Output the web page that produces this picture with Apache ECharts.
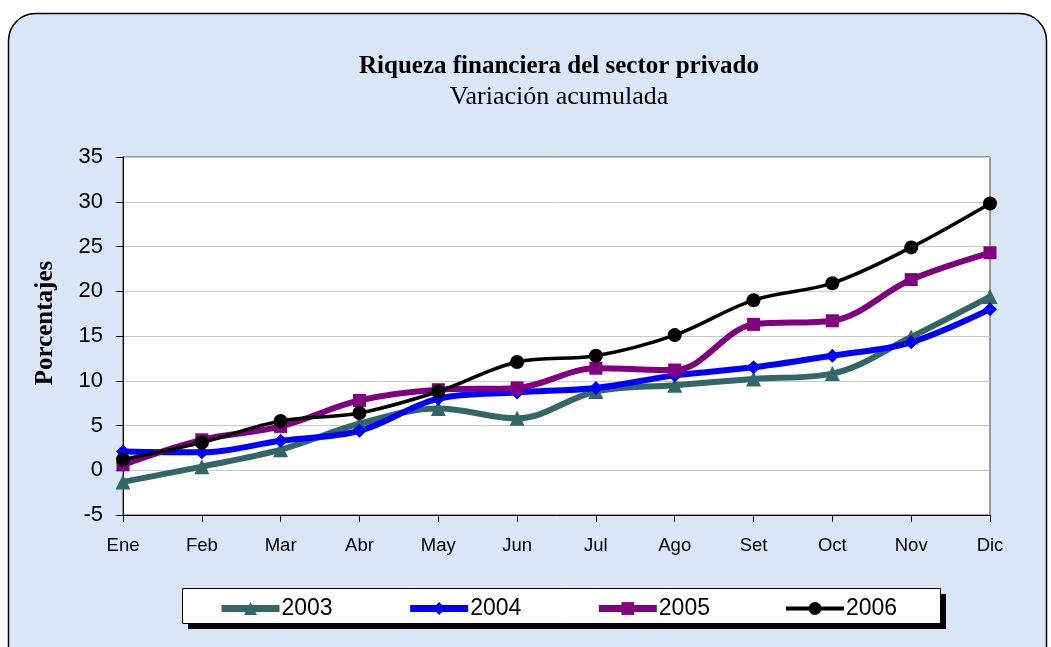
<!DOCTYPE html>
<html>
<head>
<meta charset="utf-8">
<script src="https://cdn.jsdelivr.net/npm/echarts@6/dist/echarts.min.js"></script>
<style>
  html, body { margin: 0; padding: 0; background: #fff; }
  #chart { width: 1051px; height: 647px; }
</style>
</head>
<body>
<div id="chart"></div>
<script>
// meses y valores (variación acumulada, %)
const months = ['Ene', 'Feb', 'Mar', 'Abr', 'May', 'Jun', 'Jul', 'Ago', 'Set', 'Oct', 'Nov', 'Dic'];
const yTicks = [-5, 35, 5]; // min, max, paso
const s2003 = [-1.3, 0.4, 2.3, 5.2, 6.9, 5.8, 8.8, 9.5, 10.2, 10.8, 14.9, 19.4];
const s2004 = [2.1, 2.0, 3.3, 4.4, 8.0, 8.7, 9.2, 10.6, 11.5, 12.8, 14.3, 18.0];
const s2005 = [0.6, 3.4, 4.9, 7.8, 9.0, 9.2, 11.4, 11.2, 16.3, 16.7, 21.3, 24.3];
const s2006 = [1.2, 3.1, 5.5, 6.4, 8.8, 12.1, 12.8, 15.1, 19.0, 20.9, 24.9, 29.8];

const sans = 'Liberation Sans, Arial, sans-serif';
const serif = 'Liberation Serif, Times New Roman, serif';

function serie(name, data, color, width, symbol, size) {
    return {
        name: name,
        type: 'line',
        data: data,
        smooth: 0.35,
        symbol: symbol,
        symbolSize: size,
        showSymbol: true,
        lineStyle: { color: color, width: width },
        itemStyle: { color: color, borderWidth: 0 }
    };
}

const chart = echarts.init(document.getElementById('chart'));
chart.setOption({
    animation: false,
    backgroundColor: '#fff',
    title: {
        text: 'Riqueza financiera del sector privado',
        subtext: 'Variación acumulada',
        left: 554,
        textAlign: 'center',
        top: 49,
        itemGap: 5,
        textStyle: { fontFamily: serif, fontWeight: 'bold', fontSize: 25, color: '#000' },
        subtextStyle: { fontFamily: serif, fontSize: 26, color: '#000' }
    },
    graphic: [
        {
            type: 'rect', z: -10, silent: true,
            shape: { x: 8.5, y: 13.5, width: 1038, height: 660, r: [27, 27, 0, 0] },
            style: { fill: '#d9e6f5', stroke: '#000', lineWidth: 1.5 }
        },
        // título del eje Y
        {
            type: 'text', z: 5, silent: true,
            x: 46, y: 323, rotation: Math.PI / 2,
            style: {
                text: 'Porcentajes', fill: '#000',
                font: 'bold 25px ' + serif,
                align: 'center', verticalAlign: 'middle'
            }
        },
        // sombra de la leyenda
        {
            type: 'rect', z: 1, silent: true,
            shape: { x: 188, y: 594, width: 758, height: 35 },
            style: { fill: '#000' }
        },
        {
            type: 'rect', z: 2, silent: true,
            shape: { x: 182.5, y: 588.5, width: 758, height: 35 },
            style: { fill: '#fff', stroke: '#000', lineWidth: 1 }
        }
    ],
    legend: {
        z: 5,
        left: 213,
        top: 592,
        itemWidth: 58,
        itemHeight: 16,
        itemGap: 74,
        textStyle: { fontFamily: sans, fontSize: 23, color: '#000', padding: [0, 0, 0, -3] },
        data: [
            { name: '2003', lineStyle: { width: 7 } },
            { name: '2004', lineStyle: { width: 7 } },
            { name: '2005', lineStyle: { width: 7 } },
            { name: '2006', lineStyle: { width: 4 } }
        ]
    },
    grid: {
        left: 123, right: 61, top: 157, bottom: 132,
        show: true,
        backgroundColor: '#fff',
        borderColor: '#444',
        borderWidth: 1
    },
    xAxis: {
        type: 'category',
        data: months,
        boundaryGap: false,
        axisLine: { onZero: false, lineStyle: { color: '#000', width: 1 } },
        axisTick: { show: true, length: 7, lineStyle: { color: '#000' } },
        axisLabel: { fontFamily: sans, fontSize: 18.5, color: '#000', margin: 21 },
        splitLine: { show: false }
    },
    yAxis: {
        type: 'value',
        min: yTicks[0],
        max: yTicks[1],
        interval: yTicks[2],
        axisLine: { show: true, lineStyle: { color: '#000', width: 1 } },
        axisTick: { show: true, length: 7, lineStyle: { color: '#000' } },
        axisLabel: { fontFamily: sans, fontSize: 22, color: '#000', margin: 20 },
        splitLine: { lineStyle: { color: '#c8c8c8', width: 1 } }
    },
    series: [
        serie('2003', s2003, '#336666', 6, 'triangle', 15),
        serie('2004', s2004, '#0000ff', 6, 'diamond', 14),
        serie('2005', s2005, '#800080', 6, 'rect', 13),
        serie('2006', s2006, '#000000', 3.5, 'circle', 14)
    ]
});
</script>
</body>
</html>
